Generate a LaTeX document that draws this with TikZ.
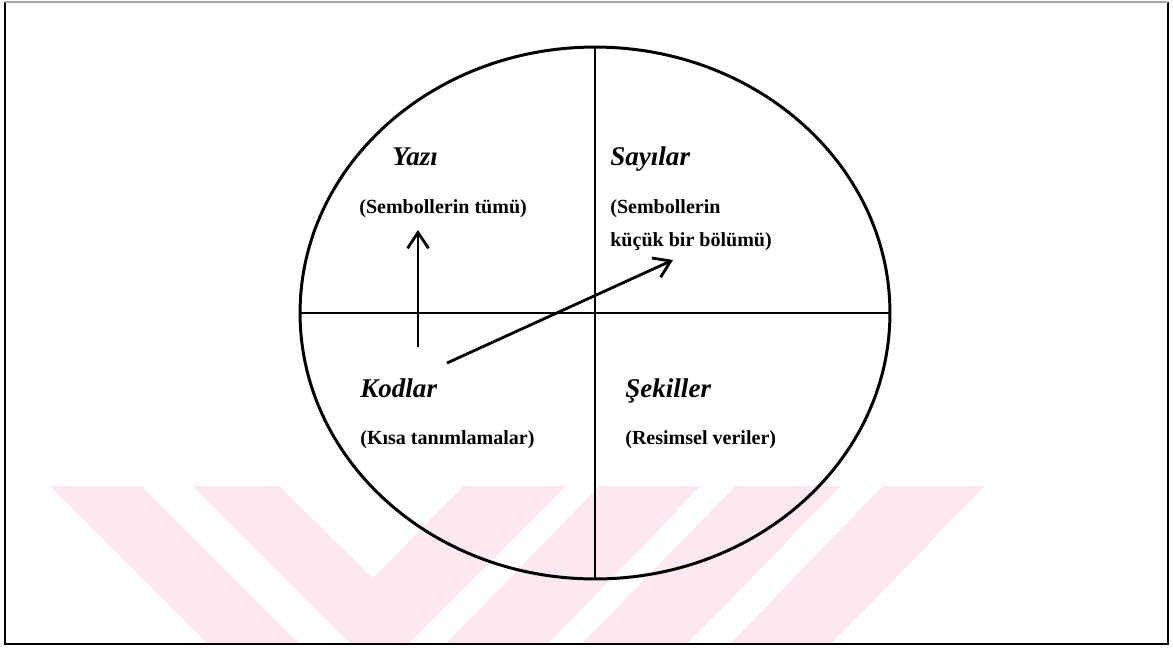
\documentclass[tikz,border=0pt]{standalone}
\usepackage{fontspec}
\setmainfont{Liberation Serif}
\usetikzlibrary{arrows.meta}
\definecolor{wmpink}{RGB}{253,233,237}
\tikzset{
  heading/.style={anchor=base west, inner sep=0pt, font=\fontsize{15.4}{18}\selectfont\bfseries\itshape},
  remark/.style={anchor=base west, inner sep=0pt, font=\fontsize{11.4}{14}\selectfont\bfseries},
  arrowline/.style={-{Straight Barb[length=9pt,width=12pt,line width=1.6pt]}, line width=1.6pt},
}
\begin{document}
\begin{tikzpicture}[x=0.02cm, y=-0.02cm]
  \useasboundingbox (0,0) rectangle (1173,647);

  % faint stripes in the background
  \begin{scope}
    \clip (6,3) rectangle (1167,643);
    \fill[wmpink] (50,486) -- (142,486) -- (312,656) -- (220,656) -- cycle;
    \fill[wmpink] (193,486) -- (279,486) -- (373,578) -- (463,486) -- (566,486) -- (396,656) -- (363,656) -- cycle;
    \fill[wmpink] (599,486) -- (701,486) -- (536,656) -- (434,656) -- cycle;
    \fill[wmpink] (735,486) -- (841,486) -- (676,656) -- (570,656) -- cycle;
    \fill[wmpink] (883,486) -- (985,486) -- (820,656) -- (718,656) -- cycle;
  \end{scope}

  % frame
  \draw[line width=1.2pt] (5,2) -- (5,644) -- (1168,644) -- (1168,2);
  \draw[gray!70, line width=0.8pt] (5,2) -- (1168,2);

  % ellipse cut in four
  \draw[line width=1.7pt] (595,313) ellipse (5.9cm and 5.32cm);
  \draw[line width=1.1pt] (595,47) -- (595,579);
  \draw[line width=1.1pt] (300,313) -- (890,313);

  % upper half
  \node[heading] (yazi) at (392,165) {Yazı};
  \node[remark] (yaziNote) at (359,213) {(Sembollerin tümü)};
  \node[heading] (sayilar) at (610,165) {Sayılar};
  \node[remark] (sayilarNote) at (610,213) {(Sembollerin};
  \node[remark] (sayilarNoteB) at (610,246) {küçük bir bölümü)};

  % lower half
  \node[heading] (kodlar) at (360,397) {Kodlar};
  \node[remark] (kodlarNote) at (360,444) {(Kısa tanımlamalar)};
  \node[heading] (sekiller) at (625,397) {Şekiller};
  \node[remark] (sekillerNote) at (625,444) {(Resimsel veriler)};

  % arrows out of the codes
  \coordinate (upTail) at (418,347);
  \coordinate (upTip) at (418,230);
  \coordinate (diagTail) at (447,363);
  \coordinate (diagTip) at (673,260);
  \draw[arrowline] (upTail) -- (upTip);
  \draw[arrowline] (diagTail) -- (diagTip);
\end{tikzpicture}
\end{document}
